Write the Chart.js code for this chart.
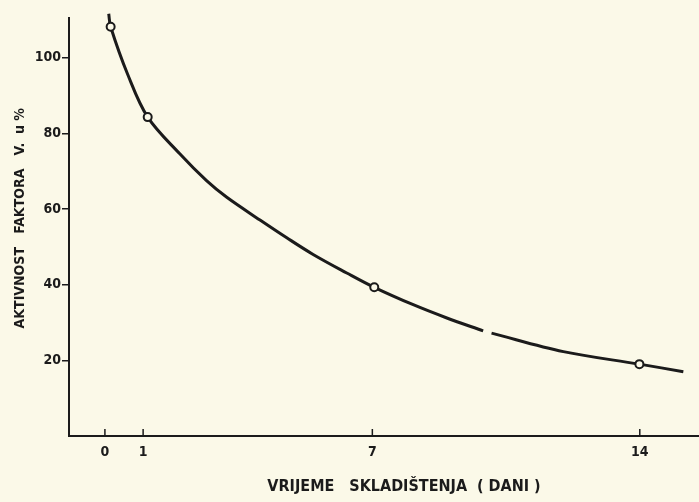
<!DOCTYPE html>
<html>
<head>
<meta charset="utf-8">
<script src="https://cdn.jsdelivr.net/npm/chart.js@4/dist/chart.umd.min.js"></script>
<style>
  html, body { margin: 0; padding: 0; background: #fbf9e8; }
  #wrap { width: 699px; height: 502px; }
</style>
</head>
<body>
<div id="wrap"><canvas id="activityChart"></canvas></div>
<script>
// Storage time in days and factor activity in %
const curveDays = [0.10, 0.15, 0.6, 1.12, 1.96, 2.66, 3.19, 4.06, 4.76, 5.45, 6.33, 7.05, 8.07, 8.95, 9.90, null, 10.12, 12.0, 13.99, 15.14];
const curveValues = [111.6, 108.2, 95.5, 84.3, 74.6, 67.5, 63.1, 57.1, 52.4, 48.0, 43.1, 39.3, 34.7, 31.2, 27.8, null, 27.2, 22.3, 19.0, 17.0];

const measuredDays = [0.15, 1.12, 7.05, 13.99];
const measuredValues = [108.2, 84.3, 39.3, 19.0];

const xTickValues = [0, 1, 7, 14];
const yTickValues = [20, 40, 60, 80, 100];

const ink = "#1b1b1b";
const fontFamily = "'DejaVu Sans Condensed', 'DejaVu Sans', sans-serif";

function toPoints(xs, ys) {
  return xs.map((x, i) => (x === null ? { x: NaN, y: null } : { x: x, y: ys[i] }));
}

// small tick marks on the x axis pointing up into the plot
const innerTicks = {
  id: "innerTicks",
  afterDraw(chart) {
    const ctx = chart.ctx;
    const xScale = chart.scales.x;
    const base = chart.chartArea.bottom;
    ctx.save();
    ctx.strokeStyle = ink;
    ctx.lineWidth = 1.5;
    xTickValues.forEach(function (v) {
      const px = xScale.getPixelForValue(v);
      ctx.beginPath();
      ctx.moveTo(px, base);
      ctx.lineTo(px, base - 7);
      ctx.stroke();
    });
    ctx.restore();
  },
};

var ctx = document.getElementById("activityChart").getContext("2d");
var activityChart = new Chart(ctx, {
  type: "scatter",
  data: {
    datasets: [
      {
        label: "Krivulja",
        data: toPoints(curveDays, curveValues),
        showLine: true,
        spanGaps: false,
        tension: 0.35,
        borderColor: ink,
        borderWidth: 3,
        pointRadius: 0,
        clip: false,
        order: 2,
      },
      {
        label: "Mjerenja",
        data: toPoints(measuredDays, measuredValues),
        showLine: false,
        pointRadius: 4,
        pointBackgroundColor: "#fbf9e8",
        pointBorderColor: ink,
        pointBorderWidth: 2,
        clip: false,
        order: 1,
      },
    ],
  },
  options: {
    responsive: true,
    maintainAspectRatio: false,
    animation: false,
    layout: { autoPadding: false, padding: { top: 18, right: 0, left: 0, bottom: 0 } },
    plugins: {
      legend: { display: false },
      tooltip: { enabled: false },
    },
    scales: {
      x: {
        type: "linear",
        min: -0.94,
        max: 15.55,
        afterBuildTicks: function (scale) {
          scale.ticks = xTickValues.map((v) => ({ value: v }));
        },
        afterFit: function (scale) {
          scale.height = 66;
        },
        grid: { drawOnChartArea: false, drawTicks: false },
        border: { display: true, color: ink, width: 2 },
        ticks: {
          color: ink,
          font: { family: fontFamily, size: 14, weight: "bold", style: "condensed" },
          padding: 8,
          maxRotation: 0,
        },
        title: {
          display: true,
          text: "        VRIJEME   SKLADIŠTENJA  ( DANI )",
          color: ink,
          font: { family: fontFamily, size: 16, weight: "bold", style: "condensed" },
          padding: { top: 0, bottom: 6 },
        },
      },
      y: {
        min: 0,
        max: 110.5,
        afterBuildTicks: function (scale) {
          scale.ticks = yTickValues.map((v) => ({ value: v }));
        },
        afterFit: function (scale) {
          scale.width = 69;
        },
        grid: { drawOnChartArea: false, drawTicks: true, tickLength: 7, color: ink, lineWidth: 1.5 },
        border: { display: true, color: ink, width: 2 },
        ticks: {
          color: ink,
          font: { family: fontFamily, size: 14, weight: "bold", style: "condensed" },
          padding: 1,
        },
        title: {
          display: true,
          text: "    AKTIVNOST   FAKTORA   V.  u %",
          color: ink,
          font: { family: fontFamily, size: 14, weight: "bold", style: "condensed" },
          padding: { top: 12, bottom: 4 },
        },
      },
    },
  },
  plugins: [innerTicks],
});
</script>
</body>
</html>
